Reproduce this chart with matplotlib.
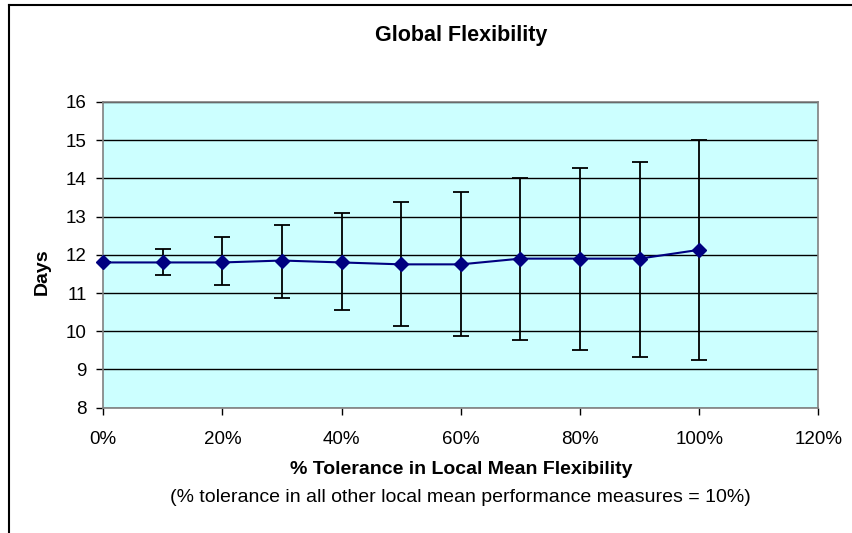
import matplotlib
matplotlib.use("Agg")
import matplotlib.pyplot as plt
from matplotlib.lines import Line2D
from matplotlib.ticker import FuncFormatter

plt.rcParams['font.family'] = ['Liberation Sans', 'DejaVu Sans']

# Tolerance levels (fraction) and global flexibility in days
tolerance = [0.0, 0.1, 0.2, 0.3, 0.4, 0.5, 0.6, 0.7, 0.8, 0.9, 1.0]
mean_days = [11.80, 11.80, 11.80, 11.85, 11.80, 11.75, 11.75, 11.90, 11.90, 11.90, 12.13]
upper_days = [11.80, 12.14, 12.46, 12.78, 13.10, 13.37, 13.65, 14.00, 14.28, 14.42, 15.00]
lower_days = [11.80, 11.48, 11.20, 10.88, 10.56, 10.14, 9.87, 9.78, 9.52, 9.32, 9.24]

x_ticks = [0.0, 0.2, 0.4, 0.6, 0.8, 1.0, 1.2]
y_ticks = [8, 9, 10, 11, 12, 13, 14, 15, 16]

err_low = [m - lo for m, lo in zip(mean_days, lower_days)]
err_high = [hi - m for m, hi in zip(mean_days, upper_days)]

W, H = 853, 533
fig = plt.figure(figsize=(W / 100, H / 100), dpi=100)
ax_left, ax_right = 103.3 / W, 818.3 / W
ax_bottom, ax_top = 1 - 407.7 / H, 1 - 101.9 / H
ax = fig.add_axes([ax_left, ax_bottom, ax_right - ax_left, ax_top - ax_bottom])
ax.set_facecolor('#CCFFFF')

ax.errorbar(tolerance, mean_days, yerr=[err_low, err_high], fmt='none',
            ecolor='black', elinewidth=1.3, capsize=6, capthick=1.3, zorder=3)
ax.plot(tolerance, mean_days, color='#000080', lw=1.5, marker='D',
        markersize=7, markerfacecolor='#000080', markeredgecolor='#000080',
        zorder=4, clip_on=False)

ax.set_xlim(0, 1.2)
ax.set_ylim(8, 16)
ax.set_xticks(x_ticks)
ax.set_yticks(y_ticks)
ax.xaxis.set_major_formatter(FuncFormatter(lambda v, p: f"{v*100:.0f}%"))
ax.yaxis.grid(True, color='black', lw=1.0)
ax.set_axisbelow(True)
for s in ax.spines.values():
    s.set_color('#808080')
    s.set_linewidth(1.2)
ax.tick_params(axis='both', labelsize=13.5, direction='out', length=5,
               color='black', width=1.0)
ax.tick_params(axis='x', pad=12)
ax.tick_params(axis='y', pad=7)

xc = 0.5 * (ax_left + ax_right)
fig.text(xc, 1 - 36 / H, 'Global Flexibility',
         ha='center', va='center', fontsize=15.5, fontweight='bold')
fig.text(42 / W, 1 - 272 / H, 'Days', rotation=90, ha='center',
         va='center', fontsize=14, fontweight='bold')
fig.text(xc, 1 - 470 / H,
         '% Tolerance in Local Mean Flexibility', ha='center', va='center',
         fontsize=14, fontweight='bold')
fig.text(xc, 1 - 498 / H,
         '(% tolerance in all other local mean performance measures = 10%)',
         ha='center', va='center', fontsize=14)

# Chart frame (open at the right and bottom edges)
fig.add_artist(Line2D([9 / W, 9 / W], [0, 1 - 5 / H], color='black',
                      lw=1.5, transform=fig.transFigure))
fig.add_artist(Line2D([9 / W, 1], [1 - 5 / H, 1 - 5 / H], color='black',
                      lw=1.5, transform=fig.transFigure))

fig.savefig('out.png', dpi=100)
